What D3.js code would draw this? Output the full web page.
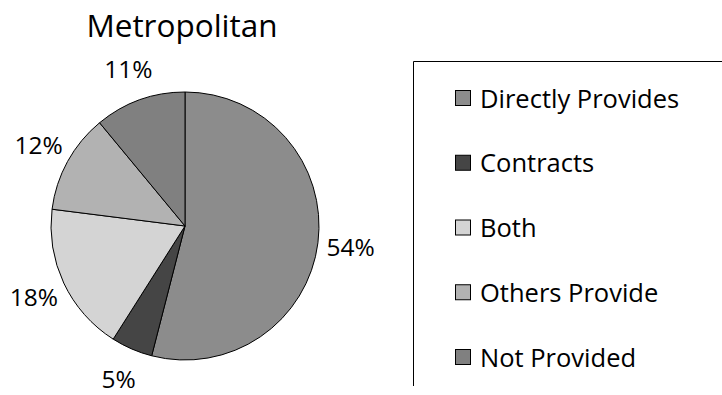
<!DOCTYPE html>
<html>
<head>
<meta charset="utf-8">
<script src="https://cdn.jsdelivr.net/npm/d3@7"></script>
<style>
  html, body { margin: 0; padding: 0; background: #fff; }
  svg { display: block; font-family: "Open Sans", "Noto Sans", sans-serif; }
</style>
</head>
<body>
<svg id="chart" width="722" height="395"></svg>
<script>
// Share of metropolitan governments by how the service is delivered
const title = "Metropolitan";
const categories = ["Directly Provides", "Contracts", "Both", "Others Provide", "Not Provided"];
const values = [54, 5, 18, 12, 11];
const colors = ["#8c8c8c", "#454545", "#d4d4d4", "#b2b2b2", "#808080"];

const svg = d3.select("#chart");
const W = 722, H = 395;
const cx = 185, cy = 226, radius = 134, labelRadius = 167;

svg.append("rect").attr("width", W).attr("height", H).attr("fill", "#fff");

// Title
svg.append("text")
  .attr("x", 182).attr("y", 37)
  .attr("text-anchor", "middle")
  .attr("font-size", 31.5)
  .attr("fill", "#000")
  .text(title);

// Pie, clockwise from 12 o'clock in data order
const pie = d3.pie().sort(null).value(d => d.value);
const arcs = pie(categories.map((c, i) => ({ name: c, value: values[i], color: colors[i] })));
const arc = d3.arc().innerRadius(0).outerRadius(radius);
const labelArc = d3.arc().innerRadius(labelRadius).outerRadius(labelRadius);

const g = svg.append("g").attr("transform", `translate(${cx},${cy})`);
g.selectAll("path.slice")
  .data(arcs)
  .join("path")
  .attr("class", "slice")
  .attr("d", arc)
  .attr("fill", d => d.data.color)
  .attr("stroke", "#000")
  .attr("stroke-width", 1)
  .attr("stroke-linejoin", "round");

g.selectAll("text.pct")
  .data(arcs)
  .join("text")
  .attr("class", "pct")
  .attr("transform", d => `translate(${labelArc.centroid(d)})`)
  .attr("text-anchor", "middle")
  .attr("dy", "0.36em")
  .attr("font-size", 24.5)
  .attr("fill", "#000")
  .text(d => d.data.value + "%");

// Legend frame (runs off the right and bottom of the chart area)
svg.append("path")
  .attr("d", "M413.5,386 V61.5 H730")
  .attr("fill", "none")
  .attr("stroke", "#000")
  .attr("stroke-width", 1);

const ly = d3.scalePoint().domain(categories).range([98, 357]);
const items = svg.selectAll("g.item")
  .data(categories.map((c, i) => ({ name: c, color: colors[i] })))
  .join("g")
  .attr("class", "item")
  .attr("transform", d => `translate(0,${ly(d.name)})`);

items.append("rect")
  .attr("x", 455.5).attr("y", -7.5)
  .attr("width", 15).attr("height", 15)
  .attr("fill", d => d.color)
  .attr("stroke", "#000")
  .attr("stroke-width", 1);

items.append("text")
  .attr("x", 480)
  .attr("y", 9.5)
  .attr("font-size", 25.5)
  .attr("fill", "#000")
  .text(d => d.name);
</script>
</body>
</html>
